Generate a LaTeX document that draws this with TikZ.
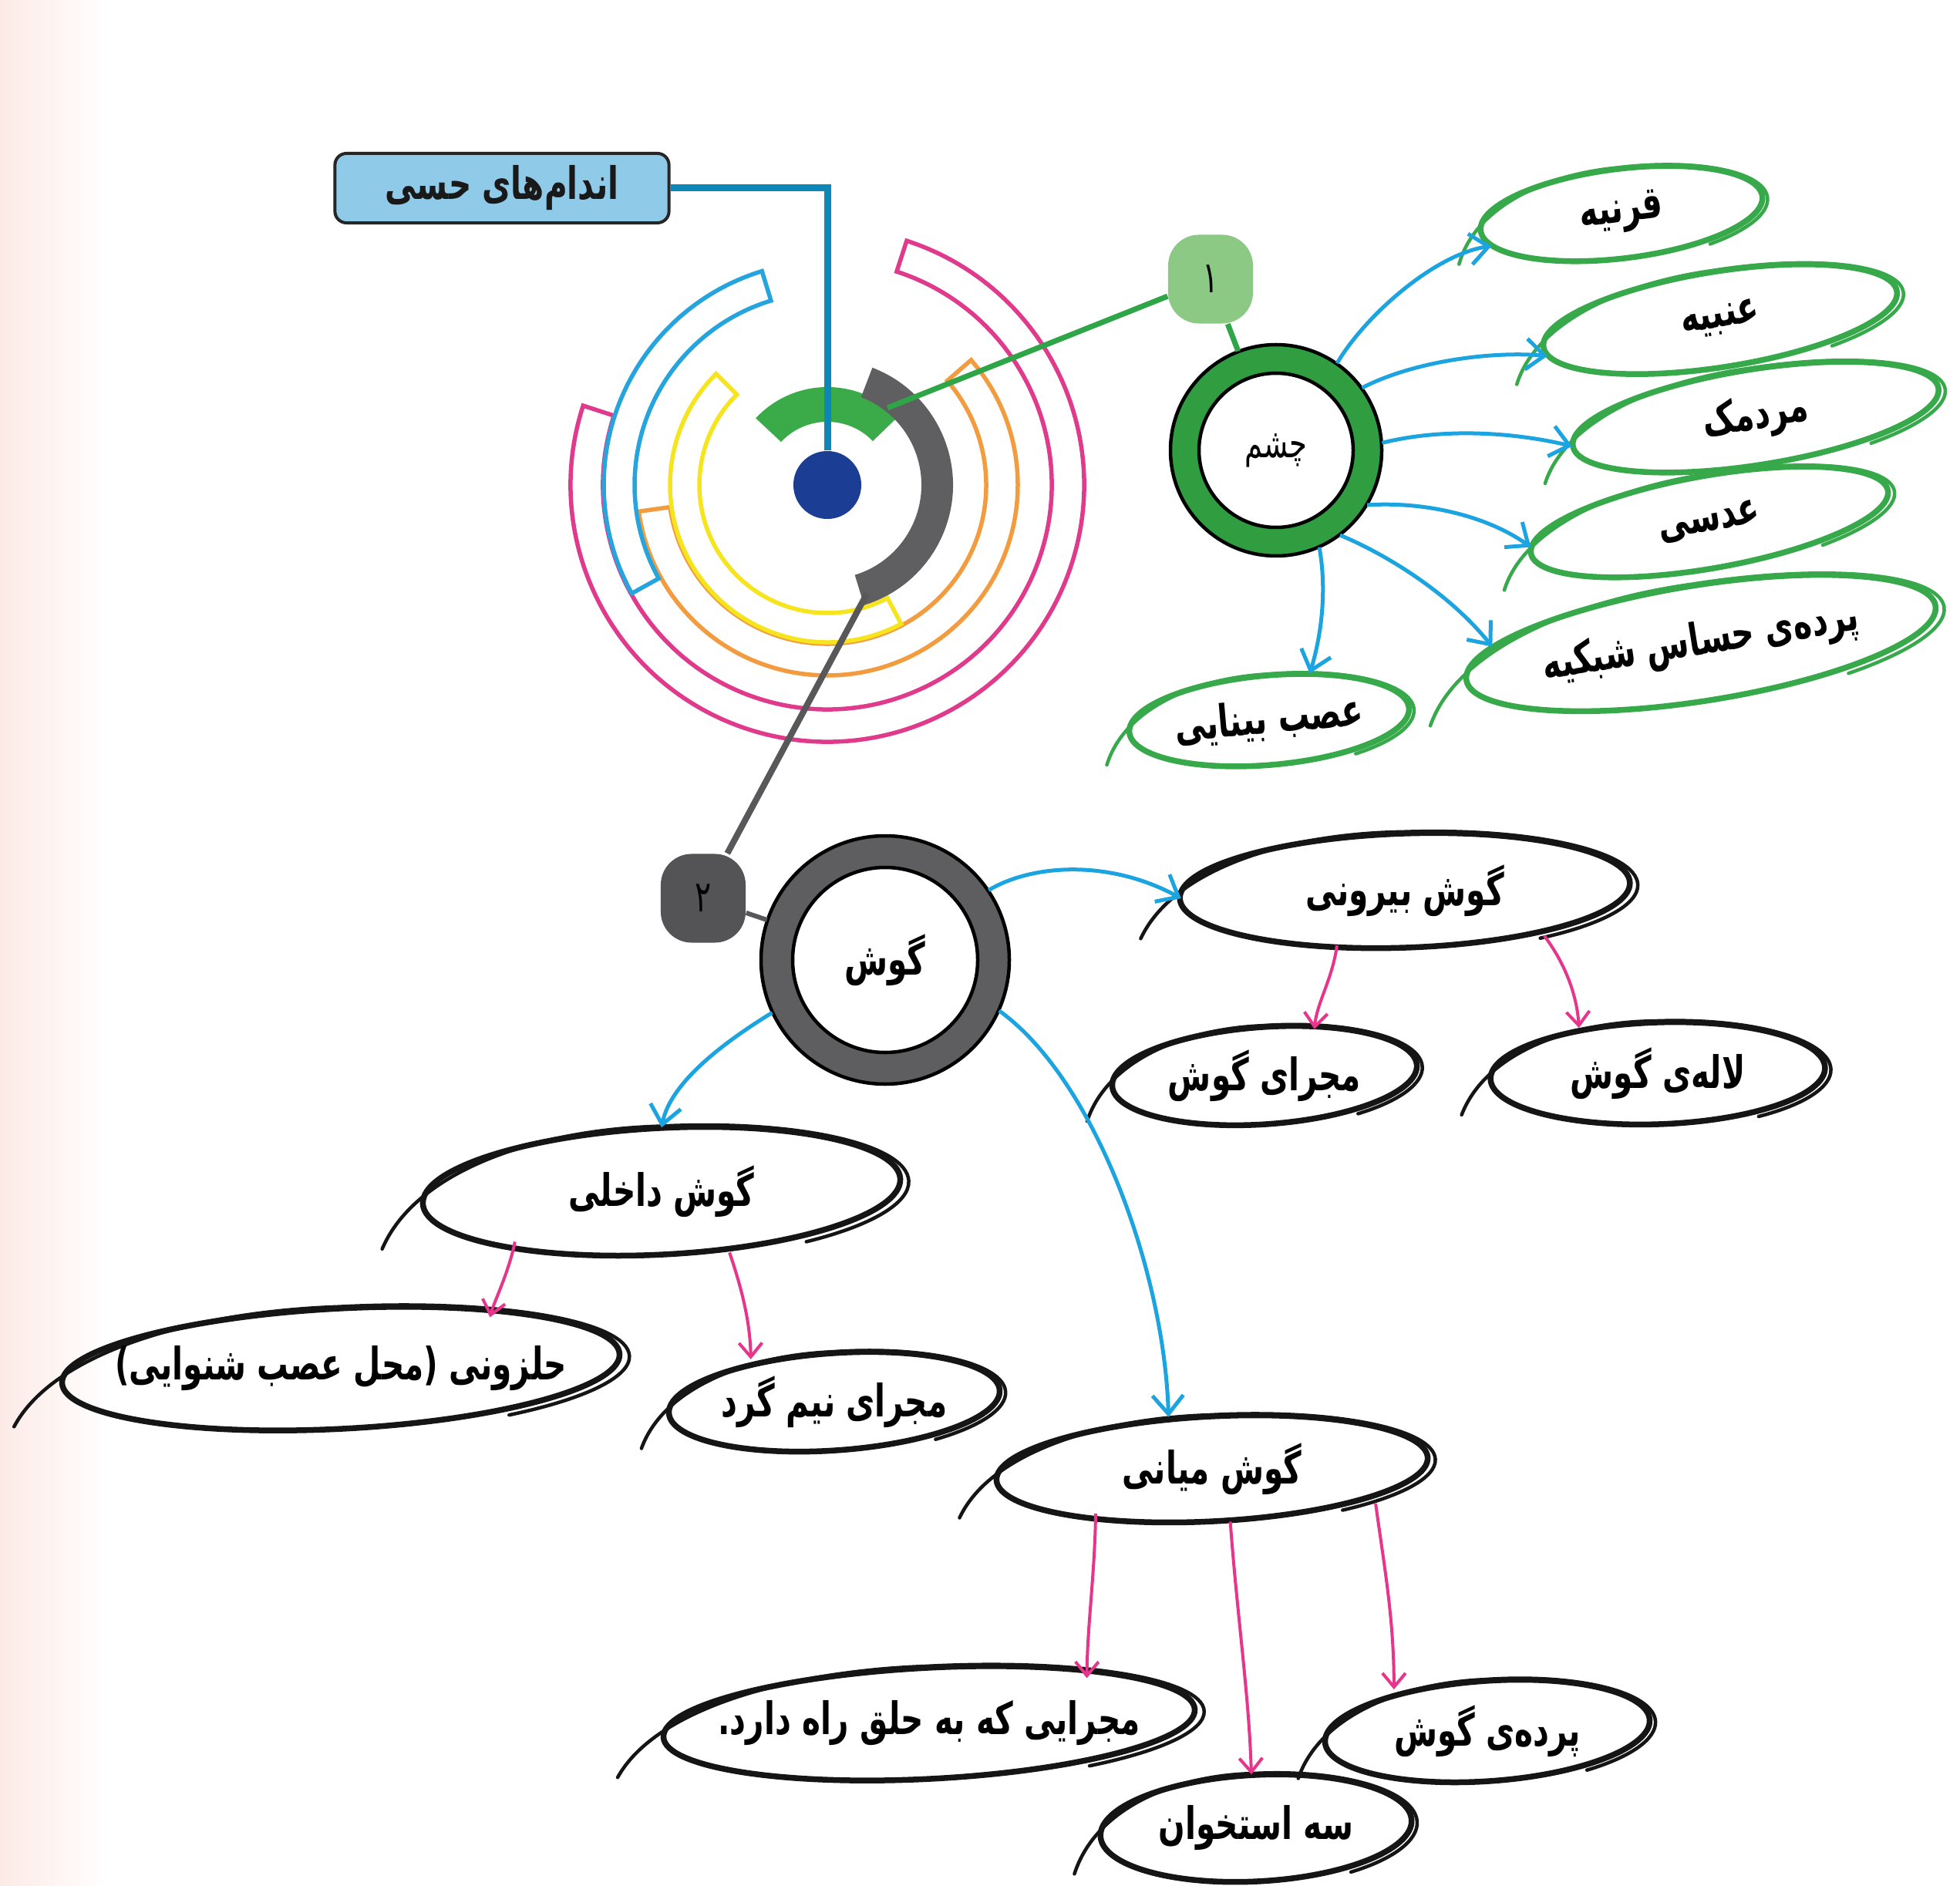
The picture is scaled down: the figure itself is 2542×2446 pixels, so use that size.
\documentclass[tikz,border=0pt]{standalone}
\usepackage{fontspec}
\usepackage{graphicx}
\usetikzlibrary{calc,arrows.meta,shapes.geometric}
\newfontfamily\pfont[Script=Arabic, FakeStretch=0.7]{DejaVu Sans}
\TeXXeTstate=1
\definecolor{ringpink}{HTML}{E03A8C}
\definecolor{ringorange}{HTML}{F39C3F}
\definecolor{ringyellow}{HTML}{F6E51E}
\definecolor{ringblue}{HTML}{26A4DD}
\definecolor{ringgreen}{HTML}{3BAA48}
\definecolor{ringgrey}{HTML}{5F5F61}
\definecolor{dotblue}{HTML}{1B3E94}
\definecolor{connblue}{HTML}{0D86B8}
\definecolor{titlefill}{HTML}{8FCBE8}
\definecolor{badgegreen}{HTML}{8BC985}
\definecolor{badgegrey}{HTML}{545456}
\definecolor{eyegreen}{HTML}{2F9D40}
\definecolor{eargrey}{HTML}{5E5E60}
\definecolor{ovalgreen}{HTML}{37A94A}
\definecolor{ovalblack}{HTML}{151515}
\definecolor{arrowcyan}{HTML}{1BA4E0}
\definecolor{arrowpink}{HTML}{E8358C}
\definecolor{linegreen}{HTML}{2EA547}
\definecolor{linegrey}{HTML}{58585A}
\definecolor{bgpink}{HTML}{FCEAE6}

% band of a ring around (C): style, visual start angle, visual end angle (ccw), inner r, outer r
\newcommand\ringband[5]{\path[#1] ($(C)+(-#2:#4)$) arc[start angle=-#2, end angle=-#3, radius=#4] -- ($(C)+(-#3:#5)$) arc[start angle=-#3, end angle=-#2, radius=#5] -- cycle;}

% hand drawn oval: name, x, y, rx, ry, stroke rotation, colour, node rotation, text
\newcommand\ovalnode[9]{%
\begin{scope}[shift={(#2,#3)}, rotate=#6]
 \draw[#7, line width=0.075cm] (0,0) ellipse [x radius=#4, y radius=#5];
 \draw[#7, line width=0.045cm, line cap=round] ({-1.18*#4},{0.68*#5}) .. controls ({-1.02*#4},{-0.55*#5}) and ({-0.5*#4},{-1.07*#5}) .. (0,{-1.03*#5}) arc[start angle=-90, end angle=55, x radius={1.035*#4}, y radius={1.07*#5}];
\end{scope}
\node[ellipse, minimum width={#4*0.02cm}, minimum height={#5*0.02cm}, inner sep=0pt, rotate=#8] (#1) at (#2,#3) {};
\node[lbl, rotate=#8] (#1-t) at (#2,#3) {#9};
}

\begin{document}
\begin{tikzpicture}[x=0.01cm, y=-0.01cm,
  lbl/.style={font=\pfont\bfseries\fontsize{16.5pt}{19pt}\selectfont, text=black, inner sep=0pt},
  ringline/.style={line width=0.055cm},
  badge/.style={rounded corners=0.4cm, minimum width=1.1cm, minimum height=1.15cm, inner sep=0pt, font=\pfont\fontsize{16pt}{18pt}\selectfont, text=black},
  titlebox/.style={draw=black!85, line width=0.04cm, fill=titlefill, rounded corners=0.15cm, minimum width=4.33cm, minimum height=0.9cm, inner sep=0pt, font=\pfont\bfseries\fontsize{16.5pt}{19pt}\selectfont, text=black!90},
  carrow/.style={draw=arrowcyan, line width=0.05cm, -{Straight Barb[length=0.24cm, width=0.4cm]}},
  parrow/.style={draw=arrowpink, line width=0.04cm, -{Straight Barb[length=0.18cm, width=0.3cm]}}
]
\useasboundingbox (0,0) rectangle (2542,2446);
\fill[white] (0,0) rectangle (2542,2446);
\shade[left color=bgpink, right color=white] (0,0) rectangle (140,2446);

% ---------- concentric rings ----------
\coordinate (C) at (1073,629);
\ringband{draw=ringpink, ringline}{162}{432}{291}{333}
\ringband{draw=ringorange, ringline}{188}{401}{206}{247}
\ringband{draw=ringyellow, ringline}{135}{298}{166}{204}
\ringband{draw=ringblue, ringline}{107}{209}{250}{290}
\ringband{fill=ringgreen}{44}{137}{82}{127}
\ringband{fill=ringgrey}{287}{429}{122}{163}

\node[titlebox] (title) at (651,244) {\beginR اندام^^^^200cهای حسی\endR};
\node[circle, fill=dotblue, minimum size=0.88cm, inner sep=0pt] (dot) at (C) {};
\draw[connblue, line width=0.09cm] (title.east) -| (dot.north);

% ---------- eye ----------
\coordinate (gEnd) at ($(C)+(-52:127)$);
\node[badge, fill=badgegreen] (b1) at (1570,362) {۱};
\draw[linegreen, line width=0.07cm] (gEnd) -- (b1);
\fill[eyegreen, even odd rule] (1655,584) circle[radius=137] circle[radius=100];
\draw[black, line width=0.045cm] (1655,584) circle[radius=137] circle[radius=100];
\node[circle, minimum size=2.74cm, inner sep=0pt, font=\pfont\fontsize{15pt}{18pt}\selectfont] (eye) at (1655,584) {\beginR چشم\endR};
\draw[linegreen, line width=0.07cm] (b1) -- (eye);

\ovalnode{cornea}{2103}{277}{184}{58}{7}{ovalgreen}{7}{\beginR قرنیه\endR}
\ovalnode{iris}{2231}{414}{232}{62}{9}{ovalgreen}{9}{\beginR عنبیه\endR}
\ovalnode{pupil}{2277}{541}{240}{62}{9}{ovalgreen}{9}{\beginR مردمک\endR}
\ovalnode{lens}{2217}{677}{235}{60}{10}{ovalgreen}{10}{\beginR عدسی\endR}
\ovalnode{retina}{2206}{834}{308}{75}{9}{ovalgreen}{9}{\beginR پرده^^^^200cی حساس شبکیه\endR}
\ovalnode{optic}{1646}{934}{182}{58}{5}{ovalgreen}{5}{\beginR عصب بینایی\endR}

\draw[carrow] (eye.55) .. controls (1770,410) and (1860,330) .. (cornea.187);
\draw[carrow] (eye.36) .. controls (1830,470) and (1930,455) .. (iris.183);
\draw[carrow] (eye.4) .. controls (1870,555) and (1960,560) .. (pupil.180);
\draw[carrow] (eye.329) .. controls (1850,650) and (1930,670) .. (lens.178);
\draw[carrow] (eye.307) .. controls (1800,720) and (1880,770) .. (retina.172);
\draw[carrow] (eye.294) .. controls (1722,770) and (1712,830) .. (optic.44);

% ---------- ear ----------
\coordinate (gyEnd) at ($(C)+(70:150)$);
\node[badge, fill=badgegrey] (b2) at (912,1165) {۲};
\draw[linegrey, line width=0.08cm] (gyEnd) -- (b2);
\fill[eargrey, even odd rule] (1148,1245) circle[radius=161] circle[radius=120];
\draw[black, line width=0.045cm] (1148,1245) circle[radius=161] circle[radius=120];
\node[lbl, circle, minimum size=3.22cm] (ear) at (1148,1245) {\beginR گوش\endR};
\draw[linegrey, line width=0.06cm] (b2) -- (ear);

\ovalnode{outer}{1822}{1155}{292}{74}{2}{ovalblack}{0}{\beginR گوش بیرونی\endR}
\ovalnode{canal}{1640}{1395}{198}{63}{4}{ovalblack}{0}{\beginR مجرای گوش\endR}
\ovalnode{pinna}{2150}{1392}{217}{66}{2}{ovalblack}{0}{\beginR لاله^^^^200cی گوش\endR}
\ovalnode{inner}{858}{1545}{310}{82}{3}{ovalblack}{0}{\beginR گوش داخلی\endR}
\ovalnode{cochlea}{442}{1775}{362}{78}{3}{ovalblack}{0}{\beginR حلزونی (محل عصب شنوایی)\endR}
\ovalnode{semi}{1082}{1818}{215}{63}{4}{ovalblack}{0}{\beginR مجرای نیم گرد\endR}
\ovalnode{middle}{1572}{1905}{280}{68}{3}{ovalblack}{0}{\beginR گوش میانی\endR}
\ovalnode{eust}{1205}{2235}{345}{72}{3}{ovalblack}{0}{\beginR مجرایی که به حلق راه دارد.\endR}
\ovalnode{drum}{1929}{2245}{211}{65}{4}{ovalblack}{0}{\beginR پرده^^^^200cی گوش\endR}
\ovalnode{oss}{1629}{2371}{202}{69}{3}{ovalblack}{0}{\beginR سه استخوان\endR}

\draw[carrow] (ear.34) .. controls (1340,1120) and (1440,1115) .. (outer.182);
\draw[carrow] (ear.205) .. controls (950,1345) and (870,1400) .. (inner.90);
\draw[carrow] (ear.336) .. controls (1420,1400) and (1510,1650) .. (middle.130);

\draw[parrow] (outer.219) .. controls (1728,1270) and (1708,1300) .. (canal.43);
\draw[parrow] (outer.342) .. controls (2030,1250) and (2045,1290) .. (pinna.150);
\draw[parrow] (inner.199) .. controls (660,1650) and (640,1690) .. (cochlea.19);
\draw[parrow] (inner.318) .. controls (965,1680) and (973,1720) .. (semi.153);
\draw[parrow] (middle.201) .. controls (1420,2040) and (1410,2110) .. (eust.16);
\draw[parrow] (middle.289) .. controls (1605,2100) and (1620,2200) .. (oss.95);
\draw[parrow] (middle.348) .. controls (1795,2030) and (1808,2100) .. (drum.156);
\end{tikzpicture}
\end{document}
